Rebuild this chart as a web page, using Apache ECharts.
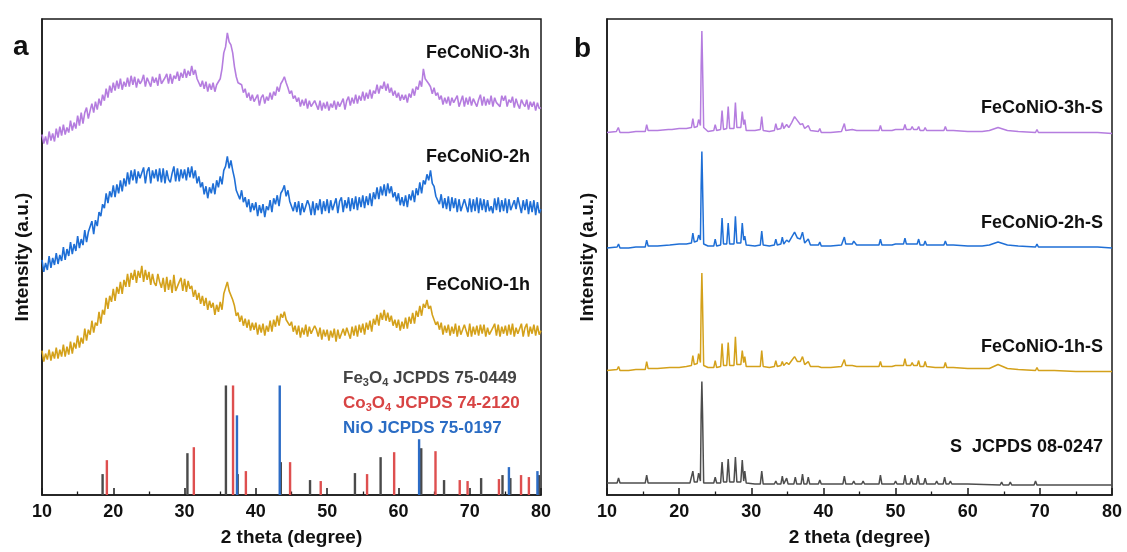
<!DOCTYPE html>
<html>
<head>
<meta charset="utf-8">
<script src="https://cdn.jsdelivr.net/npm/echarts@6/dist/echarts.min.js"></script>
<style>
  html, body { margin: 0; padding: 0; background: #fff; }
  #chart { width: 1127px; height: 552px; }
</style>
</head>
<body>
<div id="chart"></div>
<script>
// ---- Panel a: as-prepared FeCoNiO samples, scanned 10–80° at 0.25° steps ----
const scanStart = 10;
const scanStep = 0.25;

const feconio3h = [
  362,353,360,352, 365,356,363,355, 368,359,370,361, 372,362,369,364, 376,366,374,368,
  381,371,384,373, 384,389,378,386, 393,384,395,387, 398,391,402,396, 408,399,411,404,
  414,406,416,408, 418,407,415,410, 419,410,421,412, 420,409,418,413, 416,422,410,419,
  421,410,420,414, 419,411,423,413, 411,419,423,413, 423,413,421,418, 425,416,424,419,
  428,419,426,421, 431,422,427,418, 419,410,416,408, 415,405,413,407, 414,405,412,410,
  418,428,444,450, 464,455,452,444, 430,420,414,412, 412,404,408,399, 404,396,402,395,
  394,402,391,399, 402,393,400,396, 404,397,405,401, 410,405,413,416, 420,414,409,403,
  406,398,401,395, 399,390,397,391, 398,388,396,390, 389,396,398,387, 396,386,394,388,
  395,386,393,389, 396,387,395,390, 391,398,387,396, 400,391,399,393, 402,393,401,396,
  405,396,404,398, 407,398,406,403, 412,403,411,408, 415,406,413,404, 409,401,406,399,
  404,396,402,397, 402,394,403,399, 408,401,410,407, 416,410,428,418, 420,413,410,403,
  409,401,404,397, 401,392,399,393, 400,391,399,394, 393,401,390,392, 401,390,399,392,
  400,391,398,394, 390,397,402,391, 400,391,398,392, 401,390,399,394, 395,390,401,396,
  401,390,397,394, 400,389,398,392, 388,397,393,390, 397,387,395,390, 395,386,394,388,
  389
];

const feconio2h = [
  236,224,233,226, 240,228,238,231, 243,232,241,235, 249,236,247,240, 254,242,252,245,
  260,248,257,251, 266,254,264,262, 275,262,276,270, 284,280,292,288, 303,293,305,299,
  311,299,312,303, 316,305,318,310, 324,312,326,316, 327,313,325,318, 318,329,313,325,
  329,313,326,318, 327,315,328,314, 328,313,326,317, 314,323,330,315, 328,315,327,318,
  327,316,329,319, 330,318,326,313, 320,309,314,302, 310,298,309,303, 313,302,316,309,
  320,312,326,330, 340,328,336,326, 318,306,308,297, 306,294,299,289, 297,284,293,286,
  294,280,291,283, 292,279,290,286, 296,284,298,292, 301,290,303,306, 311,300,306,295,
  297,285,294,284, 295,281,293,284, 284,296,291,281, 295,281,293,286, 297,282,295,285,
  297,283,296,286, 286,298,283,295, 299,284,296,288, 299,285,298,287, 300,286,299,289,
  301,288,300,291, 303,290,304,297, 309,297,310,301, 312,300,313,303, 310,299,304,295,
  303,291,299,290, 301,289,302,296, 306,294,308,301, 314,303,316,312, 322,316,326,313,
  310,300,302,292, 302,288,298,287, 300,285,299,288, 298,284,297,285, 285,297,299,284,
  298,284,297,285, 299,283,298,286, 297,284,296,285, 290,283,298,286, 299,284,296,285,
  298,283,297,286, 284,296,287,299, 299,283,296,286, 297,282,295,284, 296,281,294,283,
  287
];

const feconio1h = [
  145,134,142,136, 146,135,144,137, 148,137,146,139, 151,139,149,141, 154,142,153,147,
  160,148,158,152, 167,155,166,161, 175,163,173,170, 184,172,186,181, 198,187,200,194,
  207,195,209,202, 214,202,216,209, 222,209,223,216, 226,213,225,218, 230,214,226,216,
  224,211,222,213, 210,222,214,208, 218,204,219,206, 216,203,221,205, 204,214,218,205,
  217,204,215,207, 210,199,206,196, 203,192,200,190, 198,186,195,188, 193,181,191,184,
  194,186,202,204, 214,205,207,196, 190,180,183,174, 180,170,177,168, 176,165,173,166,
  173,161,171,163, 172,160,170,164, 175,164,176,169, 180,170,182,178, 184,176,178,170,
  174,164,170,161, 170,158,168,161, 171,159,169,162, 161,170,166,159, 168,156,166,159,
  166,155,165,158, 167,154,166,157, 157,167,160,168, 168,157,169,160, 170,159,171,163,
  172,161,173,166, 175,164,177,171, 181,170,183,176, 186,175,183,174, 180,170,176,168,
  176,165,174,167, 178,167,179,172, 183,172,185,179, 190,180,192,188, 196,187,190,181,
  180,171,174,166, 173,161,170,163, 171,160,169,162, 172,159,170,161, 160,171,165,159,
  172,159,169,161, 170,160,171,162, 171,159,168,161, 161,168,172,160, 171,159,169,162,
  170,160,171,161, 172,159,168,162, 162,172,159,168, 172,159,169,162, 171,160,170,161,
  165
];

// Standard reference patterns: [2θ, relative intensity]
const fe3o4Ref = [
  [18.5, 21], [30.4, 42], [35.8, 110], [37.45, 21], [43.5, 33], [47.6, 15], [53.9, 22],
  [57.5, 38], [63.2, 47], [66.4, 15], [71.6, 17], [74.6, 20], [75.7, 17], [79.7, 20]
];
const co3o4Ref = [
  [19.1, 35], [31.3, 48], [36.8, 110], [38.6, 24], [44.8, 33], [49.1, 14], [55.6, 21],
  [59.4, 43], [65.2, 44], [68.6, 15], [69.7, 14], [74.1, 16], [77.2, 20], [78.3, 18]
];
const nioRef = [
  [37.35, 80], [43.35, 110], [62.9, 56], [75.5, 28], [79.5, 24]
];

// ---- Panel b: sulfurized samples and the S reference, [2θ, intensity] ----
const feconio3hS = [
  [10,364],[11.3,365],[11.57,369],[11.8,364],[13,364],[14,365],[15.3,365],[15.5,372],[15.7,366],
  [17,366],[18.5,367],[18.7,368],[19,367],[20,368],[21,368],[21.7,369],[21.9,378],[22.1,369],
  [22.5,370],[22.7,377],[22.95,371],[23.05,430],[23.15,466],[23.25,430],[23.4,369],[24,365],
  [24.8,366],[25.0,372],[25.2,366],[25.75,367],[25.95,386],[26.15,367],[26.6,368],[26.8,390],
  [27.0,368],[27.6,368],[27.8,394],[28.0,369],[28.55,369],[28.75,385],[28.95,372],[29.1,377],
  [29.3,366],[30.5,366],[31.25,367],[31.45,380],[31.65,366],[32.5,365],[33.2,366],[33.4,373],
  [33.6,367],[34.1,368],[34.3,374],[34.5,368],[34.9,372],[35.2,369],[35.6,374],[36.0,380],
  [36.4,376],[36.8,372],[37.1,373],[37.4,368],[37.9,371],[38.2,366],[39.3,365],[39.5,368],
  [39.7,364],[41,364],[42.5,365],[42.9,373],[43.1,366],[44.0,367],[44.2,369],[44.6,366],
  [46,366],[47.7,366],[47.9,371],[48.1,366],[49.5,366],[50,367],[51.1,367],[51.3,372],
  [51.5,367],[52.1,367],[52.3,370],[52.5,367],[53.0,367],[53.2,370],[53.4,366],[53.9,366],
  [54.1,369],[54.3,366],[55.5,366],[56.7,366],[56.9,370],[57.1,366],[58,366],[60,365],
  [62,365],[63,366],[64.2,369],[65.5,366],[67,365],[69.4,364],[69.6,367],[69.8,364],
  [72,364],[75,364],[78,364],[80,363]
];
const feconio2hS = [
  [10,248],[11.4,249],[11.6,252],[11.8,248],[13,248],[14,249],[15.3,249],[15.5,256],[15.7,250],
  [17,250],[18.7,251],[20,252],[21,252],[21.7,253],[21.9,263],[22.1,254],[22.5,255],[22.7,261],
  [22.95,256],[23.05,310],[23.15,345],[23.25,310],[23.4,252],[24,250],[24.8,250],[25.0,257],
  [25.2,250],[25.75,251],[25.95,278],[26.15,252],[26.6,252],[26.8,273],[27.0,252],[27.6,252],
  [27.8,280],[28.0,253],[28.55,253],[28.75,273],[28.95,256],[29.1,260],[29.3,251],[30.5,250],
  [31.25,251],[31.45,265],[31.65,251],[32.5,250],[33.2,251],[33.4,257],[33.6,251],[34.1,252],
  [34.3,259],[34.5,252],[34.9,256],[35.2,254],[35.6,259],[36.0,264],[36.4,258],[36.8,257],
  [37.1,264],[37.4,253],[37.9,257],[38.2,251],[39.3,251],[39.5,254],[39.7,250],[41,250],
  [42.5,251],[42.9,259],[43.1,252],[44.0,252],[44.2,255],[44.6,251],[46,251],[47.7,251],
  [47.9,257],[48.1,251],[49.5,251],[50,252],[51.1,252],[51.3,258],[51.5,252],[52.1,252],
  [52.3,254],[52.5,252],[53.0,252],[53.2,257],[53.4,251],[53.9,251],[54.1,255],[54.3,251],
  [55.5,251],[56.7,251],[56.9,255],[57.1,251],[58,251],[60,250],[62,250],[63,251],[64.2,254],
  [65.5,251],[67,250],[69.4,249],[69.6,252],[69.8,249],[72,249],[75,249],[78,249],[80,248]
];
const feconio1hS = [
  [10,125],[11.4,126],[11.6,129],[11.8,125],[13,125],[14,126],[15.3,126],[15.5,134],[15.7,127],
  [17,127],[18.7,128],[20,128],[21,129],[21.7,130],[21.9,140],[22.1,131],[22.5,132],[22.7,142],
  [22.95,133],[23.05,190],[23.15,223],[23.25,190],[23.4,130],[24,128],[24.8,128],[25.0,135],
  [25.2,128],[25.75,129],[25.95,152],[26.15,130],[26.6,130],[26.8,153],[27.0,130],[27.6,130],
  [27.8,159],[28.0,131],[28.55,131],[28.75,145],[28.95,133],[29.1,139],[29.3,129],[30.5,129],
  [31.25,129],[31.45,145],[31.65,129],[32.5,128],[33.2,129],[33.4,135],[33.6,129],[34.1,130],
  [34.3,134],[34.5,130],[34.9,133],[35.2,131],[35.6,135],[36.0,139],[36.4,134],[36.8,134],
  [37.1,139],[37.4,131],[37.9,134],[38.2,129],[39.3,129],[39.5,131],[39.7,128],[41,128],
  [42.5,129],[42.9,136],[43.1,130],[44.0,130],[44.2,132],[44.6,129],[46,129],[47.7,129],
  [47.9,134],[48.1,129],[49.5,129],[50,130],[51.1,130],[51.3,137],[51.5,130],[52.1,130],
  [52.3,133],[52.5,130],[53.0,130],[53.2,135],[53.4,129],[53.9,129],[54.1,134],[54.3,129],
  [55.5,128],[56.7,128],[56.9,133],[57.1,128],[58,128],[60,127],[62,127],[63,127],[64.2,131],
  [65.5,127],[67,126],[69.4,125],[69.6,128],[69.8,125],[72,125],[75,124],[78,124],[80,124]
];
const sulfurRef = [
  [10,12],[11.4,12],[11.6,17],[11.8,12],[13,12],[15.3,12],[15.5,20],[15.7,12],[17,12],[18.5,12],
  [18.7,14],[18.9,12],[20,12],[21.5,12],[21.7,13],[21.9,24],[22.1,13],[22.5,13],[22.7,22],
  [22.95,14],[23.05,80],[23.15,114],[23.25,80],[23.4,12],[24,12],[24.8,12],[25.0,18],[25.2,12],
  [25.75,12],[25.95,33],[26.15,13],[26.6,13],[26.8,36],[27.0,13],[27.6,13],[27.8,38],[28.0,13],
  [28.55,13],[28.75,35],[28.95,14],[29.1,24],[29.3,12],[30.5,11],[31.25,11],[31.45,24],
  [31.65,11],[33.2,11],[33.4,14],[33.6,11],[34.1,11],[34.3,19],[34.5,11],[34.7,11],[34.9,17],
  [35.1,11],[35.9,11],[36.1,18],[36.3,11],[36.9,11],[37.1,21],[37.3,11],[37.7,11],[37.9,18],
  [38.1,11],[39.3,11],[39.5,15],[39.7,11],[42.7,11],[42.9,19],[43.1,11],[44.0,11],[44.2,14],
  [44.4,11],[45.3,11],[45.5,14],[45.7,11],[47.7,11],[47.9,20],[48.1,11],[49.8,11],[50.0,14],
  [50.2,11],[51.1,11],[51.3,20],[51.5,11],[52.0,11],[52.2,17],[52.4,11],[52.9,11],[53.1,20],
  [53.3,11],[53.9,11],[54.1,17],[54.3,11],[55.5,11],[55.7,14],[55.9,11],[56.6,11],[56.8,18],
  [57.0,11],[57.4,11],[57.6,14],[57.8,11],[60,11],[64.5,10],[64.7,13],[64.9,10],[65.7,10],
  [65.9,13],[66.1,10],[69.2,10],[69.4,14],[69.6,10],[72,10],[76,10],[80,10]
];

// ---- styling ----
const FONT = '"Liberation Sans", Arial, Helvetica, sans-serif';
const INK = '#1a1a1a';
const PURPLE = '#b57ddf';
const BLUE = '#1f6fd6';
const GOLD = '#d4a11b';
const GREY = '#4d4d4d';
const FE_C = '#4a4a4a';
const CO_C = '#de4f4f';
const NI_C = '#2c6cc6';

const toPairs = arr => arr.map((v, i) => [scanStart + i * scanStep, v]);

function xAxisFor(gridIndex) {
  return {
    type: 'value', gridIndex, min: 10, max: 80, interval: 10,
    name: '2 theta (degree)', nameLocation: 'middle', nameGap: 33,
    nameTextStyle: { fontFamily: FONT, fontSize: 19, fontWeight: 'bold', color: '#111' },
    axisLine: { lineStyle: { color: INK, width: 1.5 } },
    axisTick: { inside: true, length: 7, lineStyle: { color: INK, width: 1.5 } },
    minorTick: { show: true, splitNumber: 2, length: 3.5, lineStyle: { color: INK, width: 1.3 } },
    axisLabel: { fontFamily: FONT, fontSize: 18, fontWeight: 'bold', color: '#111', margin: 8 },
    splitLine: { show: false }, minorSplitLine: { show: false }
  };
}
function yAxisFor(gridIndex, gap) {
  return {
    type: 'value', gridIndex, min: 0, max: 478,
    name: 'Intensity (a.u.)', nameLocation: 'middle', nameGap: gap,
    nameTextStyle: { fontFamily: FONT, fontSize: 19, fontWeight: 'bold', color: '#111' },
    axisLine: { show: true, lineStyle: { color: INK, width: 1.5 } },
    axisTick: { show: false }, axisLabel: { show: false }, splitLine: { show: false }
  };
}

// Vertical stick lines for the standard patterns
function stickSeries(data, color) {
  return {
    type: 'custom', xAxisIndex: 0, yAxisIndex: 0, data, z: 3,
    renderItem(params, api) {
      const x = api.value(0), h = api.value(1);
      const p0 = api.coord([x, 0]);
      const p1 = api.coord([x, h]);
      return { type: 'line', shape: { x1: p0[0], y1: p0[1], x2: p1[0], y2: p1[1] },
               style: { stroke: color, lineWidth: 2.4 } };
    }
  };
}
function trace(data, color, axis, width) {
  return {
    type: 'line', xAxisIndex: axis, yAxisIndex: axis, data, showSymbol: false,
    lineStyle: { color, width }, itemStyle: { color }, z: 2
  };
}
function label(text, x, y, align) {
  return {
    type: 'text', x, y, z: 10,
    style: { text, fill: '#111', font: 'bold 18px ' + FONT, align: align || 'right', verticalAlign: 'middle' }
  };
}
function refLabel(richText, color, y) {
  return {
    type: 'text', x: 343, y, z: 10,
    style: {
      text: richText, verticalAlign: 'middle', align: 'left',
      rich: {
        n: { fontFamily: FONT, fontSize: 17, fontWeight: 'bold', fill: color, lineHeight: 20 },
        s: { fontFamily: FONT, fontSize: 11, fontWeight: 'bold', fill: color, lineHeight: 20, padding: [9, 0, 0, 0] }
      }
    }
  };
}

const chart = echarts.init(document.getElementById('chart'), null, { renderer: 'canvas' });
chart.setOption({
  animation: false,
  backgroundColor: '#fff',
  grid: [
    { left: 42, right: 586, top: 19, bottom: 55, show: true, borderColor: INK, borderWidth: 1.5 },
    { left: 607, right: 15, top: 19, bottom: 55, show: true, borderColor: INK, borderWidth: 1.5 }
  ],
  xAxis: [xAxisFor(0), xAxisFor(1)],
  yAxis: [yAxisFor(0, 10), yAxisFor(1, 10)],
  series: [
    trace(toPairs(feconio3h), PURPLE, 0, 1.6),
    trace(toPairs(feconio2h), BLUE, 0, 1.6),
    trace(toPairs(feconio1h), GOLD, 0, 1.6),
    stickSeries(fe3o4Ref, FE_C),
    stickSeries(co3o4Ref, CO_C),
    stickSeries(nioRef, NI_C),
    trace(feconio3hS, PURPLE, 1, 1.5),
    trace(feconio2hS, BLUE, 1, 1.5),
    trace(feconio1hS, GOLD, 1, 1.5),
    trace(sulfurRef, GREY, 1, 1.5)
  ],
  graphic: [
    { type: 'text', x: 13, y: 33, style: { text: 'a', font: 'bold 28px ' + FONT, fill: '#111', verticalAlign: 'alphabetic' } },
    { type: 'text', x: 574, y: 35, style: { text: 'b', font: 'bold 28px ' + FONT, fill: '#111', verticalAlign: 'alphabetic' } },
    label('FeCoNiO-3h', 530, 53),
    label('FeCoNiO-2h', 530, 157),
    label('FeCoNiO-1h', 530, 285),
    refLabel('{n|Fe}{s|3}{n|O}{s|4}{n| JCPDS 75-0449}', '#444', 378),
    refLabel('{n|Co}{s|3}{n|O}{s|4}{n| JCPDS 74-2120}', '#d84444', 403),
    refLabel('{n|NiO JCPDS 75-0197}', '#2a6cc4', 428),
    label('FeCoNiO-3h-S', 1103, 108),
    label('FeCoNiO-2h-S', 1103, 223),
    label('FeCoNiO-1h-S', 1103, 347),
    label('S  JCPDS 08-0247', 1103, 447)
  ]
});
</script>
</body>
</html>
